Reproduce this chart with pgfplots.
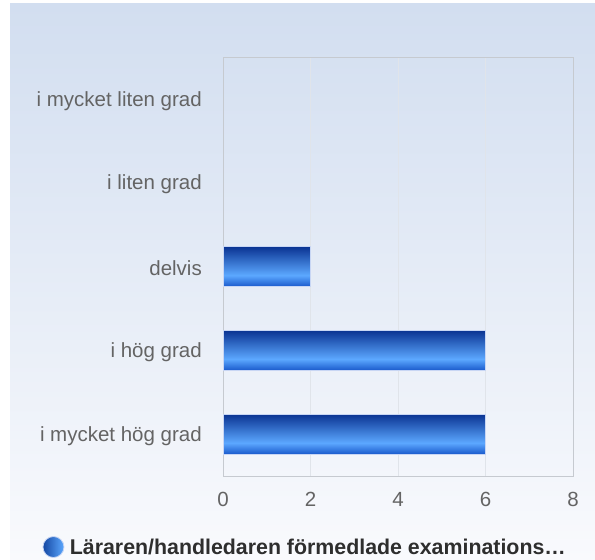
\documentclass[border=0pt]{standalone}
\usepackage{pgfplots}
\pgfplotsset{compat=1.18}
\usepackage{fontspec}
\setmainfont{Liberation Sans}
\definecolor{bgtop}{HTML}{D2DEF0}
\definecolor{bgbot}{HTML}{F9FAFD}
\definecolor{bardark}{HTML}{0A3392}
\definecolor{barlight}{HTML}{5CA8FF}
\definecolor{barbot}{HTML}{1A5ACC}
\definecolor{ticktext}{HTML}{646464}
\definecolor{legtext}{HTML}{2E2E2E}
\definecolor{gridc}{HTML}{E0E4EA}
\definecolor{framec}{HTML}{C6CAD0}
\definecolor{baredge}{HTML}{C8D6F4}
\pgfdeclareverticalshading{barshade}{100bp}{color(0bp)=(barbot); color(25bp)=(barbot); color(39bp)=(barlight); color(75bp)=(bardark); color(100bp)=(bardark)}
\begin{document}
\begin{tikzpicture}[x=1pt,y=1pt]
\path[use as bounding box] (0pt,0pt) rectangle (595pt,560pt);
\fill[top color=bgtop, bottom color=bgbot] (10pt,0pt) rectangle (595pt,556pt);
\begin{axis}[
  at={(223pt,84pt)}, anchor=south west,
  scale only axis, width=350pt, height=419pt,
  xmin=0, xmax=8, ymin=-0.5, ymax=4.5,
  xtick={0,2,4,6,8},
  ytick={0,1,2,3,4},
  yticklabels={i mycket hög grad, i hög grad, delvis, i liten grad, i mycket liten grad},
  major tick length=0pt,
  xmajorgrids, major grid style={gridc, line width=0.8pt},
  axis line style={framec, line width=0.8pt},
  axis background/.style={fill=none},
  tick label style={font=\fontsize{20.5}{22}\selectfont, text=ticktext},
  yticklabel style={inner sep=0pt, xshift=-21pt, yshift=-2pt},
  xticklabel style={inner sep=0pt, yshift=-16pt},
  /pgf/number format/assume math mode=true,
  legend style={at={(0.232,-0.1695)}, anchor=center, draw=none, fill=none,
    font=\fontsize{21.35}{23}\selectfont\bfseries, text=legtext, inner sep=0pt,
    nodes={inner sep=0pt}},
  legend image code/.code={\shade[left color=barbot!80!black, right color=barlight] (10.5pt,0pt) circle (10.5pt);\path (26.5pt,0pt);},
  barstyle/.style={xbar, bar shift=0pt, bar width=40pt, shading=barshade, draw=baredge, line width=0.8pt},
]
\addplot[barstyle] coordinates {(6,0)};
\addlegendentry{Läraren/handledaren förmedlade examinations…}
\addplot[barstyle, forget plot] coordinates {(6,1)};
\addplot[barstyle, forget plot] coordinates {(2,2)};
\addplot[xbar, bar shift=0pt, bar width=40pt, draw=none, fill=none, forget plot]
  coordinates {(0,3) (0,4)};
\end{axis}
\end{tikzpicture}
\end{document}
